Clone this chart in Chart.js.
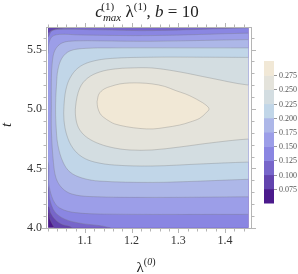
<!DOCTYPE html>
<html>
<head>
<meta charset="utf-8">
<script src="https://cdn.jsdelivr.net/npm/chart.js@4.4.1/dist/chart.umd.min.js"></script>
<style>
  html, body { margin: 0; padding: 0; background: #fff; }
</style>
</head>
<body>
<canvas id="chart" width="298" height="274"></canvas>
<script>
// contour levels (lower bound of each band) and band colours
const levels = [0.05, 0.075, 0.1, 0.125, 0.15, 0.175, 0.2, 0.225, 0.25, 0.275, 0.3];
const bandColors = ["#4b1a8c", "#6244ae", "#7766ca", "#8a86e2", "#9c9ee8",
                    "#adb7e8", "#c1d6e8", "#d3dde1", "#e4e3db", "#f1e8d6"];

// axis ticks
const xTicks = [1.1, 1.2, 1.3, 1.4];
const yTicks = [4.0, 4.5, 5.0, 5.5];
const xMinor = [1.02, 1.04, 1.06, 1.08, 1.12, 1.14, 1.16, 1.18, 1.22, 1.24, 1.26, 1.28,
                1.32, 1.34, 1.36, 1.38, 1.42, 1.44];
const yMinor = [4.1, 4.2, 4.3, 4.4, 4.6, 4.7, 4.8, 4.9, 5.1, 5.2, 5.3, 5.4, 5.6];
const barTicks = [0.075, 0.1, 0.125, 0.15, 0.175, 0.2, 0.225, 0.25, 0.275];

// plotted region (lambda, t)
const lamRange = [1.021, 1.45];
const tRange = [4.0, 5.688];

// contour outlines [lambda, t] -- each encloses the region above its level,
// points beyond the plotted region close the shape outside it
const c050 = [[0.99, 3.9], [1.5, 3.9], [1.5, 5.8], [0.99, 5.8]];
const c075 = [[1.5, 5.8], [0.99, 5.8], [0.99, 4.13], [1.021, 4.13], [1.025, 4.07],
              [1.03, 4.03], [1.034, 4.0], [1.035, 3.9], [1.5, 3.9]];
const c100 = [[1.5, 5.8], [1.08, 5.8], [1.079, 5.691], [1.06, 5.683], [1.04, 5.674],
              [1.028, 5.66], [1.021, 5.64], [0.99, 5.63], [0.99, 4.19], [1.021, 4.18],
              [1.027, 4.12], [1.036, 4.07], [1.05, 4.03], [1.072, 4.0], [1.075, 3.9], [1.5, 3.9]];
const c125 = [[1.5, 5.682], [1.449, 5.682], [1.244, 5.66], [1.132, 5.666], [1.046, 5.67],
              [1.029, 5.657], [1.019, 5.598], [0.99, 5.55], [0.99, 4.4], [1.019, 4.36],
              [1.025, 4.233], [1.036, 4.132], [1.057, 4.073], [1.089, 4.039], [1.154, 4.0],
              [1.16, 3.95], [1.5, 3.95]];
const c150 = [[1.5, 5.638], [1.449, 5.638], [1.244, 5.618], [1.089, 5.623], [1.046, 5.628],
              [1.029, 5.607], [1.022, 5.539], [1.019, 5.455], [0.99, 5.4], [0.99, 4.62],
              [1.019, 4.57], [1.023, 4.36], [1.032, 4.233], [1.046, 4.166], [1.079, 4.128],
              [1.154, 4.115], [1.449, 4.113], [1.5, 4.113]];
const c175 = [[1.5, 5.584], [1.449, 5.584], [1.244, 5.57], [1.132, 5.573], [1.079, 5.573],
              [1.051, 5.556], [1.036, 5.497], [1.03, 5.396], [1.028, 5.244], [1.028, 5.025],
              [1.028, 4.823], [1.032, 4.57], [1.038, 4.419], [1.051, 4.334], [1.072, 4.284],
              [1.111, 4.263], [1.244, 4.256], [1.449, 4.261], [1.5, 4.261]];
const c200 = [[1.5, 5.514], [1.449, 5.514], [1.154, 5.514], [1.1, 5.51], [1.068, 5.489],
              [1.051, 5.43], [1.042, 5.329], [1.039, 5.202], [1.037, 5.025], [1.038, 4.865],
              [1.042, 4.697], [1.053, 4.553], [1.068, 4.469], [1.094, 4.419], [1.132, 4.393],
              [1.244, 4.382], [1.346, 4.393], [1.449, 4.408], [1.5, 4.408]];
const c225 = [[1.5, 5.434], [1.449, 5.434], [1.346, 5.436], [1.244, 5.436], [1.154, 5.425],
              [1.111, 5.396], [1.085, 5.345], [1.068, 5.261], [1.059, 5.16], [1.055, 5.025],
              [1.055, 4.907], [1.061, 4.781], [1.074, 4.671], [1.094, 4.596], [1.121, 4.553],
              [1.164, 4.528], [1.244, 4.52], [1.346, 4.537], [1.449, 4.553], [1.5, 4.553]];
const c250 = [[1.5, 5.202], [1.449, 5.202], [1.368, 5.261], [1.303, 5.312], [1.244, 5.345],
              [1.196, 5.345], [1.164, 5.337], [1.132, 5.312], [1.106, 5.261], [1.089, 5.177],
              [1.08, 5.025], [1.081, 4.907], [1.089, 4.823], [1.106, 4.756], [1.132, 4.705],
              [1.164, 4.671], [1.196, 4.655], [1.244, 4.655], [1.303, 4.68], [1.368, 4.714],
              [1.449, 4.747], [1.5, 4.747]];
const c275 = [[1.126, 5.062], [1.13, 5.126], [1.141, 5.168], [1.155, 5.19], [1.175, 5.211],
              [1.196, 5.219], [1.218, 5.219], [1.244, 5.211], [1.271, 5.19], [1.295, 5.154],
              [1.316, 5.126], [1.331, 5.099], [1.346, 5.067], [1.359, 5.034], [1.366, 5.0],
              [1.359, 4.966], [1.346, 4.922], [1.325, 4.89], [1.303, 4.865], [1.271, 4.844],
              [1.246, 4.832], [1.218, 4.836], [1.189, 4.851], [1.164, 4.874], [1.154, 4.893],
              [1.139, 4.933], [1.132, 4.964], [1.127, 5.017], [1.126, 5.062]];

const contours = [c050, c075, c100, c125, c150, c175, c200, c225, c250, c275];

const serif = "'Liberation Serif', 'DejaVu Serif', serif";
Chart.defaults.font.family = serif;

// draw a run of text pieces, centred on cx
function drawRich(ctx, parts, cx, baseY) {
  const font = p => (p.italic ? "italic " : "") + p.size + "px " + serif;
  let total = 0;
  parts.forEach(p => {
    ctx.font = font(p);
    p.w = ctx.measureText(p.text).width;
    if (!p.stack) total += p.w;
  });
  let x = cx - total / 2;
  parts.forEach(p => {
    ctx.font = font(p);
    const px = p.stack ? x - p.back : x;
    ctx.fillText(p.text, px, baseY + (p.dy || 0));
    if (!p.stack) x += p.w;
  });
}

const decor = {
  id: "decor",
  beforeDatasetsDraw(chart) {
    const { ctx, scales: { x, y } } = chart;
    const l = x.getPixelForValue(lamRange[0]), r = x.getPixelForValue(lamRange[1]);
    const t = y.getPixelForValue(tRange[1]), b = y.getPixelForValue(tRange[0]);
    ctx.save();
    ctx.beginPath();
    ctx.rect(l, t, r - l, b - t);
    ctx.clip();
  },
  afterDatasetsDraw(chart) {
    const { ctx, chartArea: a, scales: { x, y } } = chart;
    ctx.restore();

    // frame with outward ticks
    ctx.save();
    ctx.strokeStyle = "#b5b5b5";
    ctx.lineWidth = 1;
    ctx.strokeRect(a.left + 0.5, a.top + 0.5, a.right - a.left - 1, a.bottom - a.top - 1);
    const tick = (vals, len, horiz) => {
      vals.forEach(v => {
        ctx.beginPath();
        if (horiz) {
          const px = Math.round(x.getPixelForValue(v)) + 0.5;
          ctx.moveTo(px, a.bottom); ctx.lineTo(px, a.bottom + len);
          ctx.moveTo(px, a.top); ctx.lineTo(px, a.top - len);
        } else {
          const py = Math.round(y.getPixelForValue(v)) + 0.5;
          ctx.moveTo(a.left, py); ctx.lineTo(a.left - len, py);
          ctx.moveTo(a.right, py); ctx.lineTo(a.right + len, py);
        }
        ctx.stroke();
      });
    };
    tick(xTicks, 4, true);
    tick(xMinor, 2.5, true);
    tick(yTicks, 4, false);
    tick(yMinor, 2.5, false);

    // colour bar
    const bx = a.right + 12, bw = 10, bTop = a.top + 34, bBot = a.bottom - 26;
    const vmin = levels[0], vmax = levels[levels.length - 1];
    const vy = v => bBot - (v - vmin) / (vmax - vmin) * (bBot - bTop);
    bandColors.forEach((c, i) => {
      ctx.fillStyle = c;
      const y0 = vy(levels[i + 1]), y1 = vy(levels[i]);
      ctx.fillRect(bx, y0, bw, y1 - y0 + 0.5);
    });
    ctx.strokeStyle = "#999";
    ctx.fillStyle = "#555";
    ctx.font = "8px " + serif;
    ctx.textAlign = "left";
    ctx.textBaseline = "middle";
    barTicks.forEach(v => {
      const py = Math.round(vy(v)) + 0.5;
      ctx.beginPath();
      ctx.moveTo(bx + bw, py); ctx.lineTo(bx + bw + 3, py);
      ctx.stroke();
      ctx.fillText(v.toFixed(3), bx + bw + 5, py);
    });

    // title and axis labels
    ctx.fillStyle = "#222";
    ctx.textAlign = "left";
    ctx.textBaseline = "alphabetic";
    drawRich(ctx, [
      { text: "c", size: 17, italic: true },
      { text: "max", size: 11, italic: true, dy: 4 },
      { text: "(1)", size: 11, dy: -7, stack: true, back: 20 },
      { text: " λ", size: 17 },
      { text: "(1)", size: 11, dy: -7 },
      { text: ", ", size: 17 },
      { text: "b", size: 17, italic: true },
      { text: " = 10", size: 17 }
    ], (a.left + a.right) / 2 - 2, 17);

    drawRich(ctx, [
      { text: "λ", size: 15 },
      { text: "(", size: 10, dy: -7 },
      { text: "0", size: 10, italic: true, dy: -7 },
      { text: ")", size: 10, dy: -7 }
    ], (a.left + a.right) / 2 - 3, 272);

    ctx.save();
    ctx.translate(11, (a.top + a.bottom) / 2 - 3);
    ctx.rotate(-Math.PI / 2);
    ctx.font = "italic 15px " + serif;
    ctx.textAlign = "center";
    ctx.fillText("t", 0, 0);
    ctx.restore();
    ctx.restore();
  }
};

const datasets = contours.map((pts, i) => ({
  data: pts.map(p => ({ x: p[0], y: p[1] })),
  showLine: true,
  fill: "shape",
  backgroundColor: bandColors[i],
  borderColor: i === 0 ? "rgba(0,0,0,0)" : "rgba(120,120,120,0.4)",
  borderWidth: 0.8,
  pointRadius: 0,
  tension: i === 0 ? 0 : 0.35,
  order: contours.length - i
}));

new Chart(document.getElementById("chart"), {
  type: "scatter",
  data: { datasets },
  options: {
    responsive: false,
    animation: false,
    events: [],
    layout: { padding: { left: 0, right: 46, top: 27, bottom: 0 } },
    elements: { line: { capBezierPoints: false } },
    plugins: { legend: { display: false }, tooltip: { enabled: false } },
    scales: {
      x: {
        type: "linear",
        min: 1.0165,
        max: 1.458,
        afterFit: s => { s.height = 45; },
        afterBuildTicks: s => { s.ticks = xTicks.map(v => ({ value: v })); },
        grid: { display: false, drawTicks: false },
        border: { display: false },
        ticks: { color: "#333", font: { size: 12 }, padding: 5, callback: v => v.toFixed(1) }
      },
      y: {
        type: "linear",
        min: 3.99,
        max: 5.69,
        afterFit: s => { s.width = 46; },
        afterBuildTicks: s => { s.ticks = yTicks.map(v => ({ value: v })); },
        grid: { display: false, drawTicks: false },
        border: { display: false },
        ticks: { color: "#333", font: { size: 12 }, padding: 4, callback: v => v.toFixed(1) }
      }
    }
  },
  plugins: [decor]
});
</script>
</body>
</html>
